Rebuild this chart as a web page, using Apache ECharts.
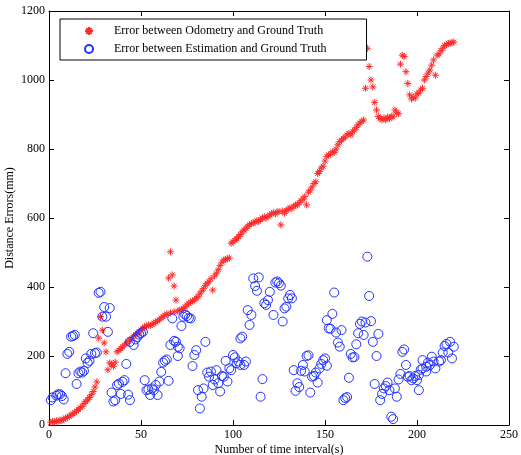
<!DOCTYPE html>
<html>
<head>
<meta charset="utf-8">
<script src="https://cdn.jsdelivr.net/npm/echarts@6/dist/echarts.min.js"></script>
<style>html,body{margin:0;padding:0;background:#fff}#c{width:521px;height:455px}</style>
</head>
<body>
<div id="c"></div>
<script>
// ---- data (x = time interval index, y = error in mm) ----
const odometryError = [
[1,8],[2,10],[3,9],[4,12],[5,11],[6,14],[7,13],[8,17],[9,20],[10,22],[11,26],[12,28],[13,33],[14,36],[15,40],
[16,45],[17,50],[18,54],[19,62],[20,68],[21,73],[22,80],[23,88],[24,97],[25,110],[26,125],
[27,252],[28,314],[29,275],[30,238],[31,212],[32,160],[33,180],[34,176],[35,170],[36,182],
[37,212],[38,216],[39,222],[40,226],[41,232],[42,237],[43,242],[44,246],[45,250],[46,258],[47,262],[48,266],
[49,270],[50,275],[51,280],[52,285],[53,287],[54,290],[55,288],[56,292],[57,295],[58,298],[59,302],[60,305],
[61,310],[62,314],[63,318],[64,322],[65,426],[66,502],[67,435],[68,403],[69,362],[66,325],[68,328],[70,330],
[71,333],[72,333],[73,338],[74,342],[75,348],[76,353],[77,356],[78,360],[79,362],[80,368],[81,372],[82,380],
[83,388],[84,395],[85,405],[86,411],[87,415],[88,424],[89,391],[90,432],[91,440],[92,450],[93,462],[94,472],
[95,478],[96,480],[97,482],[98,484],[99,527],[100,531],[101,535],[102,540],[103,546],[104,552],[105,560],
[106,565],[107,570],[108,576],[109,580],[110,584],[111,586],[112,588],[113,592],[114,590],[115,596],[116,600],
[117,603],[118,600],[119,605],[120,609],[121,612],[122,615],[123,612],[124,618],[125,618],[126,580],[127,620],
[128,614],[129,622],[130,626],[131,629],[132,628],[133,634],[134,638],[135,638],[136,644],[137,650],[138,655],
[139,662],[140,638],[141,675],[142,681],[143,690],[144,700],[145,705],[146,729],[147,735],[148,745],[149,750],
[150,765],[151,778],[152,783],[153,785],[154,792],[155,790],[156,800],[157,812],[158,821],[159,826],[160,831],
[161,835],[162,841],[163,845],[164,841],[165,850],[166,855],[167,862],[168,870],[169,875],[170,880],[171,884],
[172,976],[173,1092],[174,1039],[175,1000],[176,980],[177,935],[178,913],[179,894],[180,888],[181,885],[182,890],
[183,884],[184,892],[185,888],[186,895],[187,893],[188,913],[189,905],[190,902],[191,1046],[192,1072],[193,1068],
[194,1024],[195,990],[196,957],[197,945],[198,950],[199,948],[200,960],[201,962],[202,971],[203,976],[204,1000],
[205,1010],[206,1020],[207,1029],[208,1043],[209,1058],[210,1014],[211,1072],[212,1075],[213,1085],[214,1092],
[215,1100],[216,1103],[217,1106],[218,1107],[219,1108],[220,1110]
];
const estimationError = [
[1,72],[2,80],[4,85],[5,89],[6,89],[7,84],[8,74],[9,150],[10,206],[11,212],[12,256],[13,258],[14,261],[15,119],
[16,150],[17,155],[18,152],[19,157],[20,193],[21,180],[22,186],[23,206],[24,266],[25,208],[26,210],[27,383],
[28,386],[29,314],[30,342],[31,314],[32,270],[33,339],[34,94],[35,68],[36,72],[37,116],[38,120],[39,90],[40,125],
[41,130],[42,177],[43,88],[44,72],[44,241],[46,232],[47,248],[48,255],[49,262],[50,266],[51,270],[52,130],[53,101],
[54,103],[55,87],[56,106],[57,101],[58,116],[59,87],[60,126],[61,154],[62,181],[63,186],[64,190],[65,128],[66,232],
[67,309],[68,244],[69,241],[70,227],[70,200],[71,222],[72,287],[73,314],[74,320],[75,316],[76,310],[77,309],
[78,171],[79,203],[80,217],[81,101],[82,48],[83,82],[84,106],[85,241],[86,152],[87,140],[88,155],[89,116],[90,132],
[91,159],[92,121],[93,97],[94,142],[95,140],[96,186],[97,126],[98,164],[99,159],[100,203],[101,196],[102,179],
[103,184],[104,174],[104,251],[105,256],[106,174],[107,184],[108,333],[109,290],[110,319],[111,425],[112,403],
[113,389],[114,428],[115,82],[116,133],[117,353],[118,348],[119,362],[120,386],[122,319],[123,413],[124,416],
[125,411],[126,404],[127,300],[128,338],[129,343],[130,367],[131,377],[132,367],[133,159],[134,99],[135,121],
[136,110],[137,157],[138,174],[139,155],[140,200],[141,202],[142,94],[143,140],[144,142],[145,152],[146,123],
[147,164],[148,177],[149,188],[150,193],[151,304],[151,172],[152,280],[153,279],[154,322],[155,384],[156,268],
[157,239],[158,227],[159,275],[160,72],[161,78],[162,81],[163,137],[164,206],[165,196],[166,197],[167,234],
[168,266],[169,293],[170,300],[171,261],[172,297],[173,488],[174,374],[175,301],[176,241],[177,119],[178,200],
[179,264],[180,72],[181,90],[182,106],[183,113],[184,123],[185,101],[186,24],[187,17],[188,106],[189,82],[190,132],
[191,148],[192,212],[193,219],[194,174],[195,140],[196,142],[197,130],[198,135],[199,142],[200,130],[201,145],
[201,101],[202,160],[203,164],[203,188],[205,169],[205,155],[206,181],[207,174],[208,198],[209,184],[210,164],
[212,184],[213,188],[214,210],[215,229],[216,235],[217,210],[218,241],[219,193],[220,227]
];
const seriesNames = ['Error between Odometry and Ground Truth', 'Error between Estimation and Ground Truth'];
const xTicks = [0, 50, 100, 150, 200, 250];
const yTicks = [0, 200, 400, 600, 800, 1000, 1200];
const xLabel = 'Number of time interval(s)';
const yLabel = 'Distance Errors(mm)';

const FONT = '"Liberation Serif", "DejaVu Serif", serif';
const STAR = 'path://M5,0L5,10M0,5L10,5M1.5,1.5L8.5,8.5M1.5,8.5L8.5,1.5';

const chart = echarts.init(document.getElementById('c'), null, {renderer: 'canvas'});
const axisCommon = {
  axisLine: {show: true, onZero: false, lineStyle: {color: '#000', width: 1}},
  axisTick: {show: true, inside: true, length: 5, lineStyle: {color: '#000'}},
  splitLine: {show: false},
};
const plain = v => String(v);
chart.setOption({
  animation: false,
  backgroundColor: '#fff',
  grid: {left: 49, right: 12, top: 11, bottom: 30, containLabel: false, outerBoundsMode: 'none'},
  legend: {
    left: 60, top: 19, orient: 'vertical',
    backgroundColor: '#fff', borderColor: '#000', borderWidth: 1,
    padding: [4, 40, 3, 24],
    itemWidth: 8, itemHeight: 8, itemGap: 2,
    textStyle: {fontFamily: FONT, fontSize: 12, color: '#000', lineHeight: 16, padding: [0, 0, 0, 16]},
    data: seriesNames
  },
  xAxis: [
    Object.assign({type: 'value', min: xTicks[0], max: xTicks[xTicks.length-1], interval: 50, position: 'bottom',
      name: xLabel, nameLocation: 'middle', nameGap: 19, nameMoveOverlap: false,
      nameTextStyle: {fontFamily: FONT, fontSize: 12, color: '#000'},
      axisLabel: {fontFamily: FONT, fontSize: 12, color: '#000', margin: 4, formatter: plain}}, axisCommon),
    Object.assign({type: 'value', min: xTicks[0], max: xTicks[xTicks.length-1], interval: 50, position: 'top',
      axisLabel: {show: false}}, axisCommon)
  ],
  yAxis: [
    Object.assign({type: 'value', min: yTicks[0], max: yTicks[yTicks.length-1], interval: 200, position: 'left',
      name: yLabel, nameLocation: 'middle', nameGap: 33, nameMoveOverlap: false,
      nameTextStyle: {fontFamily: FONT, fontSize: 12, color: '#000'},
      axisLabel: {fontFamily: FONT, fontSize: 12, color: '#000', margin: 4, formatter: plain}}, axisCommon),
    Object.assign({type: 'value', min: yTicks[0], max: yTicks[yTicks.length-1], interval: 200, position: 'right',
      axisLabel: {show: false}}, axisCommon)
  ],
  series: [
    {
      name: seriesNames[0], type: 'scatter', xAxisIndex: 0, yAxisIndex: 0,
      symbol: STAR, symbolSize: 7,
      itemStyle: {color: 'rgba(0,0,0,0)', borderColor: '#ff2a2a', borderWidth: 1, opacity: 1},
      data: odometryError
    },
    {
      name: seriesNames[1], type: 'scatter', xAxisIndex: 0, yAxisIndex: 0,
      symbol: 'circle', symbolSize: 9,
      itemStyle: {color: 'rgba(0,0,0,0)', borderColor: '#2233ff', borderWidth: 1, opacity: 1},
      data: estimationError
    }
  ]
});
</script>
</body>
</html>
